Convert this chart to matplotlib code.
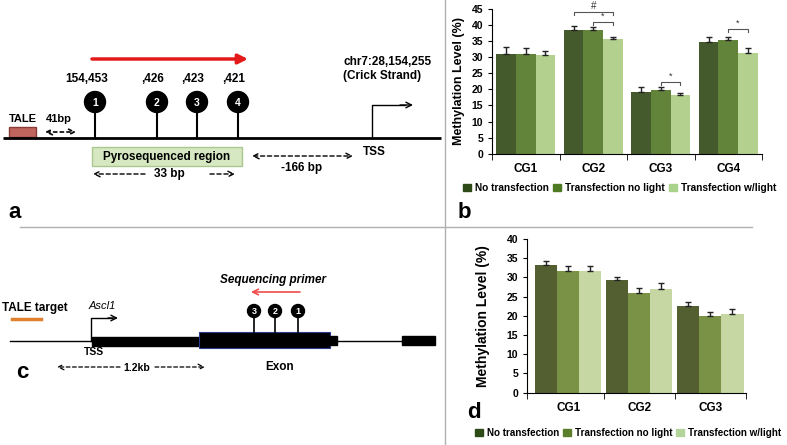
import numpy as np
import matplotlib.pyplot as plt
from matplotlib.patches import Rectangle, Circle, Patch

plt.rcParams['font.family'] = ['Liberation Sans', 'DejaVu Sans']

# panel b data
cats_b = ['CG1', 'CG2', 'CG3', 'CG4']
b_none = [31.0, 38.5, 19.3, 34.8]
b_nolight = [31.0, 38.5, 19.7, 35.4]
b_light = [30.8, 35.8, 18.1, 31.4]
b_none_err = [2.2, 1.2, 1.5, 1.4]
b_nolight_err = [2.0, 0.8, 1.1, 0.8]
b_light_err = [1.2, 0.5, 0.8, 1.5]

# panel d data
cats_d = ['CG1', 'CG2', 'CG3']
d_none = [33.3, 29.2, 22.6]
d_nolight = [31.6, 25.9, 20.0]
d_light = [31.6, 27.0, 20.5]
d_none_err = [1.1, 1.0, 1.0]
d_nolight_err = [1.3, 1.3, 1.0]
d_light_err = [1.5, 1.6, 1.4]

series = ['No transfection', 'Transfection no light', 'Transfection w/light']

# panel a / c site labels
sites_a = ['154,453', ',426', ',423', ',421']
sites_a_x = [95, 157, 197, 238]
sites_c_x = [254, 275, 298]

W, H = 787, 445
fig = plt.figure(figsize=(W / 100, H / 100), dpi=100)
bg = fig.add_axes([0, 0, 1, 1])
bg.set_xlim(0, W)
bg.set_ylim(H, 0)
bg.axis('off')

# separators
bg.plot([445, 445], [0, H], color='#b0b0b0', lw=1)
bg.plot([20, 752], [227, 227], color='#b0b0b0', lw=1)

bold = dict(fontweight='bold')

# ---------------- panel a ----------------
bg.plot([3, 441], [138, 138], color='black', lw=2, solid_capstyle='butt')
bg.annotate('', xy=(248, 59), xytext=(92, 59),
            arrowprops=dict(arrowstyle='-|>', color='#e41a1a', lw=2.5,
                            mutation_scale=14, shrinkA=0, shrinkB=0))
for i, (lab, x) in enumerate(zip(sites_a, sites_a_x)):
    bg.text(x - 8 if i == 0 else x - 4, 79, lab, ha='center', va='center', fontsize=8.5, **bold)
    bg.plot([x, x], [102, 138], color='black', lw=1.5)
    bg.add_patch(Circle((x, 102), 10.5, color='black', zorder=3))
    bg.text(x, 102.5, str(i + 1), color='white', ha='center', va='center',
            fontsize=7.5, zorder=4, **bold)

bg.add_patch(Rectangle((9, 127), 27, 10, facecolor='#c0645e', edgecolor='#8a3c38', lw=1))
bg.text(23, 119, 'TALE', ha='center', va='center', fontsize=8, **bold)
bg.text(59, 119, '41bp', ha='center', va='center', fontsize=8, **bold)
bg.annotate('', xy=(76, 132), xytext=(45, 132),
            arrowprops=dict(arrowstyle='<->', color='black', lw=1.2, ls=(0, (2, 2)),
                            shrinkA=0, shrinkB=0))

# TSS
bg.plot([372, 372, 405], [138, 105, 105], color='black', lw=1)
bg.annotate('', xy=(413, 105), xytext=(400, 105),
            arrowprops=dict(arrowstyle='->', color='black', lw=1, shrinkA=0, shrinkB=0))
bg.text(343, 62, 'chr7:28,154,255', ha='left', va='center', fontsize=8.5, **bold)
bg.text(343, 76, '(Crick Strand)', ha='left', va='center', fontsize=8.5, **bold)
bg.text(374, 152, 'TSS', ha='center', va='center', fontsize=8.5, **bold)

bg.add_patch(Rectangle((92, 147), 150, 19, facecolor='#d6e8c2', edgecolor='#a9c78e', lw=1))
bg.text(167, 157, 'Pyrosequenced region', ha='center', va='center', fontsize=8.5, **bold)
bg.annotate('', xy=(353, 156), xytext=(252, 156),
            arrowprops=dict(arrowstyle='<->', color='black', lw=1, ls=(0, (3, 2)),
                            shrinkA=0, shrinkB=0))
bg.text(302, 168, '-166 bp', ha='center', va='center', fontsize=8.5, **bold)
bg.annotate('', xy=(93, 174), xytext=(145, 174),
            arrowprops=dict(arrowstyle='->', color='black', lw=1, ls=(0, (3, 2)),
                            shrinkA=0, shrinkB=0))
bg.text(169, 174, '33 bp', ha='center', va='center', fontsize=8.5, **bold)
bg.annotate('', xy=(235, 174), xytext=(210, 174),
            arrowprops=dict(arrowstyle='->', color='black', lw=1, ls=(0, (3, 2)),
                            shrinkA=0, shrinkB=0))
bg.text(8, 212, 'a', ha='left', va='center', fontsize=16, **bold)

# ---------------- panel c ----------------
bg.text(2, 308, 'TALE target', ha='left', va='center', fontsize=8.5, **bold)
bg.plot([12, 41], [319, 319], color='#e0802e', lw=2.5)
bg.plot([10, 92], [341, 341], color='black', lw=1)
bg.add_patch(Rectangle((92, 337), 108, 9, color='black'))
bg.add_patch(Rectangle((199, 332), 131, 16, facecolor='black', edgecolor='#2a3a90', lw=0.8))
bg.add_patch(Rectangle((330, 336), 7, 9, color='black'))
bg.plot([337, 402], [341, 341], color='black', lw=1)
bg.add_patch(Rectangle((402, 336), 33, 9, color='black'))

bg.plot([91, 91, 112], [341, 318, 318], color='black', lw=1)
bg.annotate('', xy=(118, 318), xytext=(108, 318),
            arrowprops=dict(arrowstyle='->', color='black', lw=1, shrinkA=0, shrinkB=0))
bg.text(89, 306, 'Ascl1', ha='left', va='center', fontsize=8, style='italic')
bg.text(94, 352, 'TSS', ha='center', va='center', fontsize=7.5, **bold)

for i, x in enumerate(sites_c_x):
    bg.plot([x, x], [311, 332], color='black', lw=1.2)
    bg.add_patch(Circle((x, 311), 6.5, color='black', zorder=3))
    bg.text(x, 311.5, str(3 - i), color='white', ha='center', va='center',
            fontsize=6.5, zorder=4, **bold)

bg.text(273, 280, 'Sequencing primer', ha='center', va='center', fontsize=8.5,
        style='italic', **bold)
bg.annotate('', xy=(251, 292), xytext=(300, 292),
            arrowprops=dict(arrowstyle='->', color='#ef4b4b', lw=1.2, shrinkA=0, shrinkB=0))
bg.text(280, 367, 'Exon', ha='center', va='center', fontsize=8.5, **bold)
bg.annotate('', xy=(57, 367), xytext=(120, 367),
            arrowprops=dict(arrowstyle='->', color='black', lw=0.9, ls=(0, (3, 2)),
                            shrinkA=0, shrinkB=0))
bg.text(137, 368, '1.2kb', ha='center', va='center', fontsize=7.5, **bold)
bg.annotate('', xy=(205, 367), xytext=(155, 367),
            arrowprops=dict(arrowstyle='->', color='black', lw=0.9, ls=(0, (3, 2)),
                            shrinkA=0, shrinkB=0))
bg.text(16, 373, 'c', ha='left', va='center', fontsize=16, **bold)


def bar_panel(ax, cats, vals, errs, colors, ymax, ystep, xlim, width, ylab_fs):
    x = np.arange(len(cats))
    for k, (v, e, c) in enumerate(zip(vals, errs, colors)):
        ax.bar(x + (k - 1) * width, v, width, color=c, edgecolor='none', zorder=2)
        ax.errorbar(x + (k - 1) * width, v, yerr=[np.zeros(len(v)), e], fmt='none',
                    ecolor='#222222', elinewidth=1, capsize=2.2, capthick=1, zorder=3)
    ax.set_xlim(*xlim)
    ax.set_ylim(0, ymax)
    ax.set_yticks(np.arange(0, ymax + 1, ystep))
    ax.set_xticks(x)
    ax.set_xticklabels(cats, fontsize=8.5, fontweight='bold')
    ax.set_xticks(np.arange(len(cats) + 1) - 0.5, minor=True)
    ax.tick_params(axis='x', which='major', length=0, pad=7)
    ax.tick_params(axis='x', which='minor', length=4, direction='out')
    ax.tick_params(axis='y', length=3, direction='out', labelsize=7.5)
    for t in ax.get_yticklabels():
        t.set_fontweight('bold')
    ax.spines['top'].set_visible(False)
    ax.spines['right'].set_visible(False)
    ax.set_ylabel('Methylation Level (%)', fontsize=ylab_fs, fontweight='bold')


# ---------------- panel b ----------------
axb = fig.add_axes([492 / W, 1 - 153.7 / H, 270 / W, 144.7 / H])
cols_b = ['#455a2c', '#62833a', '#b3d08f']
bar_panel(axb, cats_b, [b_none, b_nolight, b_light],
          [b_none_err, b_nolight_err, b_light_err], cols_b, 45, 5, (-0.5, 3.5), 0.29, 9)
axb.yaxis.set_label_coords(-0.1, 0.5)
w = 0.29


def bracket(ax, x1, x2, y, mark, fs):
    ax.plot([x1, x1, x2, x2], [y - 0.9, y, y, y - 0.9], color='#555555', lw=0.8)
    ax.text((x1 + x2) / 2, y + 0.3, mark, ha='center', va='bottom', fontsize=fs, color='#333333')


bracket(axb, 1 - w, 1 + w, 44.0, '#', 7)
bracket(axb, 1, 1 + w, 40.9, '*', 6.5)
bracket(axb, 2, 2 + w, 22.4, '*', 6.5)
bracket(axb, 3, 3 + w, 38.8, '*', 6.5)
leg_b = ['#2e4a16', '#4e7a24', '#a9d38b']
axb.legend([Patch(color=c) for c in leg_b], series, loc='center', ncol=3,
           bbox_to_anchor=(620 / W, 1 - 188 / H), bbox_transform=fig.transFigure,
           frameon=False, prop=dict(weight='bold', size=7.3),
           handlelength=0.8, handleheight=0.8, handletextpad=0.4, columnspacing=0.4)
bg.text(458, 212, 'b', ha='left', va='center', fontsize=16, **bold)

# ---------------- panel d ----------------
axd = fig.add_axes([527 / W, 1 - 392.7 / H, 219 / W, 153.7 / H])
cols_d = ['#535f31', '#7a9245', '#c6d7a3']
bar_panel(axd, cats_d, [d_none, d_nolight, d_light],
          [d_none_err, d_nolight_err, d_light_err], cols_d, 40, 5, (-0.58, 2.5), 0.31, 10)
axd.set_xticks([-0.58, 0.5, 1.5, 2.5], minor=True)
axd.yaxis.set_label_coords(-0.17, 0.5)
leg_d = ['#2e4a16', '#5a7e2a', '#b3d49a']
axd.legend([Patch(color=c) for c in leg_d], series, loc='center', ncol=3,
           bbox_to_anchor=(628 / W, 1 - 433 / H), bbox_transform=fig.transFigure,
           frameon=False, prop=dict(weight='bold', size=7.1),
           handlelength=0.8, handleheight=0.8, handletextpad=0.4, columnspacing=0.4,
           borderaxespad=0, borderpad=0)
bg.text(467, 413, 'd', ha='left', va='center', fontsize=16, **bold)

fig.savefig('out.png', dpi=100)
